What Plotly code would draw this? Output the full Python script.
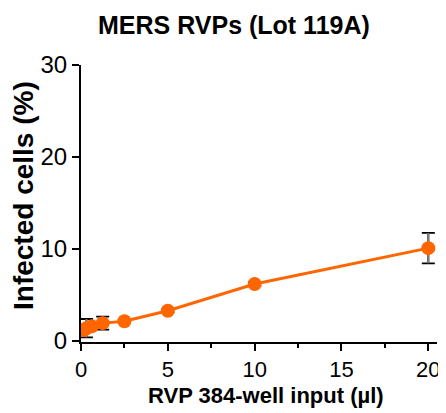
import plotly.graph_objects as go

x_input = [0.15625, 0.3125, 0.625, 1.25, 2.5, 5, 10, 20]
infected = [1.2, 1.4, 1.6, 1.95, 2.15, 3.3, 6.2, 10.1]
errors = [0.3, 1.0, 0.3, 0.7, 0.2, 0.2, 0.2, 1.65]

FONT = "Liberation Sans, Arial, sans-serif"
ORANGE = "#FF6600"
OFF = 8  # page body margin offset
W, H = 446 - OFF, 413 - OFF
L, R, T, B = 81 - OFF, 9, 65 - OFF, 413 - 342
PW, PH = W - L - R, H - T - B

def px(xp):
    return (xp - OFF - L) / PW

def py(yp):
    return (H - B - (yp - OFF)) / PH

fig = go.Figure()
# error bar caps (black)
fig.add_trace(go.Scatter(
    x=x_input, y=infected, mode="markers",
    marker=dict(size=1, opacity=0),
    error_y=dict(type="data", array=errors, visible=True, color="black",
                 thickness=1.8, width=6.5),
    showlegend=False, hoverinfo="skip",
))
# error bar stems (gray)
fig.add_trace(go.Scatter(
    x=x_input, y=infected, mode="markers",
    marker=dict(size=1, opacity=0),
    error_y=dict(type="data", array=errors, visible=True, color="#7a7a7a",
                 thickness=2, width=0),
    showlegend=False, hoverinfo="skip",
))
fig.add_trace(go.Scatter(
    x=x_input, y=infected,
    mode="lines+markers",
    line=dict(color=ORANGE, width=3),
    marker=dict(color=ORANGE, size=14),
    showlegend=False,
))

fig.update_layout(
    width=W, height=H,
    margin=dict(l=L, r=R, t=T, b=B),
    paper_bgcolor="white", plot_bgcolor="white",
    font=dict(family=FONT, color="black"),
    annotations=[
        dict(text="<b>MERS RVPs (Lot 119A)</b>", x=px(234), y=py(25),
             xref="paper", yref="paper", showarrow=False,
             xanchor="center", yanchor="middle", font=dict(size=25, family=FONT)),
        dict(text="<b>RVP 384-well input (µl)</b>", x=px(266), y=py(395),
             xref="paper", yref="paper", showarrow=False,
             xanchor="center", yanchor="middle", font=dict(size=22, family=FONT)),
        dict(text="<b>Infected cells (%)</b>", x=px(24), y=py(196),
             xref="paper", yref="paper", showarrow=False, textangle=-90,
             xanchor="center", yanchor="middle", font=dict(size=28, family=FONT)),
    ],
)

fig.update_xaxes(
    range=[0, 20.5], showline=True, linecolor="black", linewidth=2,
    tickmode="array", tickvals=[0, 5, 10, 15, 20],
    ticks="outside", ticklen=7, tickwidth=2, tickcolor="black",
    minor=dict(tickvals=[2.5, 7.5, 12.5, 17.5], ticks="outside", ticklen=4,
               tickwidth=2, tickcolor="black", showgrid=False),
    showgrid=False, zeroline=False, automargin=False,
    tickfont=dict(size=22, family=FONT),
)
fig.update_yaxes(
    range=[-0.1, 30], showline=True, linecolor="black", linewidth=2,
    tickmode="array", tickvals=[0, 10, 20, 30],
    ticks="outside", ticklen=7, tickwidth=2, tickcolor="black",
    showgrid=False, zeroline=False, automargin=False,
    tickfont=dict(size=24, family=FONT),
)

fig.write_html("out.html")
